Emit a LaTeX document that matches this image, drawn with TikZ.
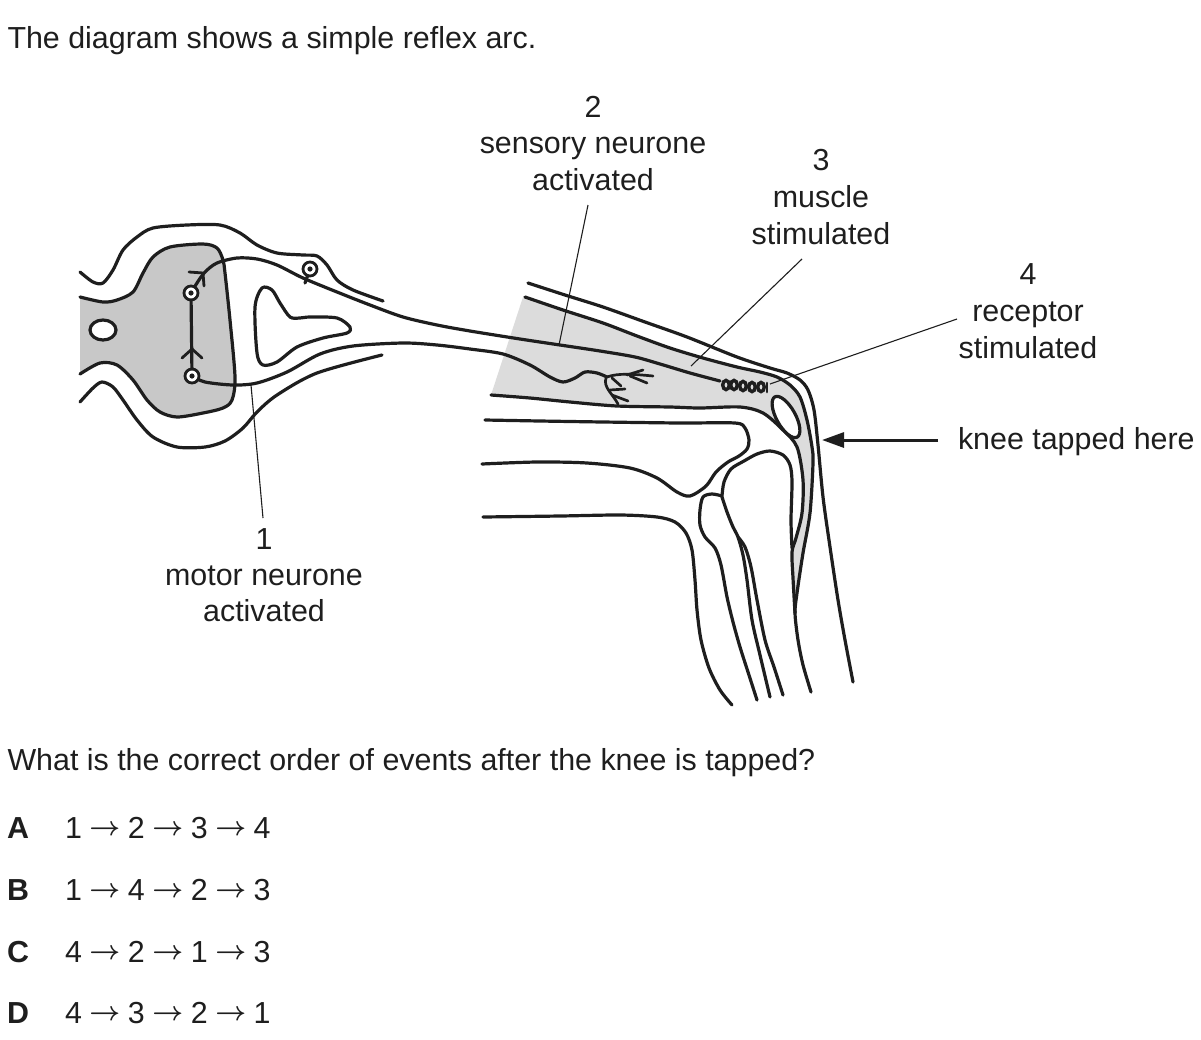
\documentclass[tikz,border=0pt]{standalone}
\usepackage{fontspec}
\setmainfont{Liberation Sans}
\usetikzlibrary{arrows.meta}
\definecolor{ink}{HTML}{1E1E1E}
\definecolor{cordgray}{HTML}{C8C8C8}
\definecolor{musclegray}{HTML}{DCDCDC}
\newcommand\rarr{\makebox[46pt]{\fontsize{24.88}{26}\selectfont\boldmath\raisebox{2.5pt}{\scalebox{1.08}{$\rightarrow$}}}}
\begin{document}
\begin{tikzpicture}[x=1pt,y=-1pt,
  every node/.style={inner sep=0pt, outer sep=0pt, font=\fontsize{30.4}{36}\selectfont, text=ink},
  thickline/.style={draw=ink, line width=3.2pt, line cap=round, line join=round},
  thinner/.style={draw=ink, line width=2.7pt, line cap=round, line join=round},
  leader/.style={draw=ink, line width=1.1pt},
  cell/.style={circle, draw=ink, fill=white, line width=2.8pt, minimum size=14pt},
  coilring/.style={draw=ink, line width=3.4pt},
]
\useasboundingbox (0,0) rectangle (1201,1039);

% ---------- texts ----------
\node[anchor=base west] (title) at (7.5,48) {The diagram shows a simple reflex arc.};
\node[anchor=base] (n2) at (593,117) {2};
\node[anchor=base] (s2a) at (593,153) {sensory neurone};
\node[anchor=base] (s2b) at (593,190) {activated};
\node[anchor=base] (n3) at (821,170) {3};
\node[anchor=base] (s3a) at (821,207) {muscle};
\node[anchor=base] (s3b) at (821,244) {stimulated};
\node[anchor=base] (n4) at (1028,284) {4};
\node[anchor=base] (s4a) at (1028,321) {receptor};
\node[anchor=base] (s4b) at (1028,358) {stimulated};
\node[anchor=base west] (knee) at (958,449) {knee tapped here};
\node[anchor=base] (n1) at (264,549) {1};
\node[anchor=base] (s1a) at (264,585) {motor neurone};
\node[anchor=base] (s1b) at (264,621) {activated};
\node[anchor=base west] (q) at (7.5,770) {What is the correct order of events after the knee is tapped?};
\node[anchor=base west] (oA) at (7,838) {\bfseries A};
\node[anchor=base west] (oAt) at (65,838) {1\rarr 2\rarr 3\rarr 4};
\node[anchor=base west] (oB) at (7,900) {\bfseries B};
\node[anchor=base west] (oBt) at (65,900) {1\rarr 4\rarr 2\rarr 3};
\node[anchor=base west] (oC) at (7,962) {\bfseries C};
\node[anchor=base west] (oCt) at (65,962) {4\rarr 2\rarr 1\rarr 3};
\node[anchor=base west] (oD) at (7,1023) {\bfseries D};
\node[anchor=base west] (oDt) at (65,1023) {4\rarr 3\rarr 2\rarr 1};

% ---------- spinal cord ----------
\path[fill=cordgray, thickline] plot[smooth] coordinates {(80,297) (103,302) (117,300) (133,292) (143,273) (153,257) (170,247) (203,244) (217,248) (223,260) (225,273) (230,320) (235,377) (232,400) (223,408) (203,413) (177,417) (160,412) (147,400) (133,380) (117,365) (100,363) (80,374)};
\draw[thickline, fill=white] (103,330) ellipse [x radius=13, y radius=10];
\draw[thickline] plot[smooth] coordinates {(80,272) (93,282) (103,283) (113,270) (123,250) (137,237) (153,228) (187,225) (220,225) (240,233) (257,245) (277,253) (303,255) (317,256) (327,265) (337,280) (353,290) (383,301)};
\draw[thickline] plot[smooth] coordinates {(80,402) (93,388) (102,382) (113,387) (123,400) (137,420) (153,437) (177,447) (205,447) (225,441) (243,428) (257,412) (277,395) (317,373) (382,355)};
\draw[thickline] plot[smooth cycle] coordinates {(262,288) (255,307) (257,353) (263,365) (277,362) (297,347) (323,338) (347,333) (350,327) (337,318) (310,317) (300,318) (290,317) (280,303) (272,290)};

% ---------- muscle (light grey) ----------
\fill[musclegray] (523,297) -- plot[smooth] coordinates {(491,395) (530,398) (570,402) (617,406) (670,407) (700,408) (740,407) (763,413) (783,430) (797,447) (803,480) (802,513) (796,538) (792,552) (793,578) (795,613)}
  -- plot[smooth] coordinates {(797,593) (803,553) (810,513) (813,463) (812,447) (807,420) (800,397) (790,385) (777,377) (760,372) (737,367) (703,358) (670,348) (637,336) (603,323) (563,310) (525,297)} -- cycle;
\draw[thickline] plot[smooth] coordinates {(491,395) (530,398) (570,402) (617,406) (670,407) (700,408) (740,407) (763,413) (783,430) (797,447) (803,480) (802,513) (796,538) (792,552) (793,578) (795,613)};
\draw[thickline] plot[smooth] coordinates {(525,297) (563,310) (603,323) (637,336) (670,348) (703,358) (737,367) (760,372) (777,377) (790,385) (800,397) (807,420) (812,447) (813,463) (810,513) (803,553) (797,593) (795,613) (798,640) (803,665) (811,692)};
\draw[thickline] plot[smooth] coordinates {(528,283) (565,295) (603,307) (645,322) (687,337) (737,357) (770,368) (787,373) (800,380) (808,390) (814,410) (818,445) (823,497) (830,547) (838,600) (845,640) (853,682)};
\draw[thickline, fill=white, rotate around={-61:(786,417)}] (786,417) ellipse [x radius=23, y radius=9.5];

% ---------- bones ----------
\draw[thickline] plot[smooth] coordinates {(485,420) (540,421) (603,422) (680,423) (735,423) (745,428) (749,440) (747,449) (739,456) (728,462) (716,472) (706,486) (690,496) (677,492) (657,478) (630,468) (587,463) (537,462) (482,464)};
\draw[thickline] plot[smooth] coordinates {(483,517) (560,516) (620,515) (657,517) (675,522) (686,533) (692,550) (695,580) (697,610) (701,640) (709,668) (720,690) (732,705)};
\draw[thickline] plot[smooth] coordinates {(722,496) (712,494) (703,497) (700,510) (700,525) (705,537) (715,548) (721,565) (727,597) (733,622) (740,647) (748,672) (757,700)};
\draw[thickline] plot[smooth] coordinates {(722,496) (724,482) (731,469) (744,461) (757,454) (770,451) (783,455) (790,465) (792,482) (791,520) (792,548)};
\draw[thickline] plot[smooth] coordinates {(722,497) (727,512) (733,527) (738,537) (743,555) (747,580) (752,620) (760,655) (770,697)};
\draw[thickline] plot[smooth] coordinates {(738,537) (745,547) (751,567) (757,600) (765,640) (774,667) (783,695)};

% ---------- neurones ----------
\draw[thickline] plot[smooth] coordinates {(191,293) (197,283) (205,272) (217,263) (237,258) (257,259) (277,265) (303,278) (337,292) (370,305) (403,317) (437,325) (470,331) (520,339) (560,345) (600,351) (635,357) (660,364) (690,373) (720,381)};
\draw[thickline] plot[smooth] coordinates {(192,376) (205,382) (233,385) (257,383) (287,372) (320,354) (353,346) (403,343) (437,345) (470,349) (503,354) (530,365) (550,377) (563,382) (575,378) (585,372) (597,373) (607,377)};
% motor end plate branches
\draw[thinner] (607,377) .. controls (618,373) and (632,374) .. (653,376);
\draw[thinner] (627,375) -- (643,370);
\draw[thinner] (630,376) -- (647,383);
\draw[thinner] (612,378) -- (621,386);
\draw[thinner] (606,378) .. controls (603,387) and (612,393) .. (618,404);
\draw[thinner] (610,390) -- (625,389);
\draw[thinner] (612,395) -- (628,401);
% receptor coils
\foreach \cx/\cy in {726/385, 734/385, 743/386, 752/387, 761/387}
  \draw[coilring] (\cx,\cy) ellipse [x radius=3.3, y radius=4.6];
\draw[thinner] (767,383) -- (767,392);

% cells
\node[cell] (relay) at (191,293) {};
\node[cell] (motor) at (192,376) {};
\node[cell] (gang) at (310,269) {};
\coordinate (gstalk) at (305,283);
\draw[thickline] (gang) -- (gstalk);
\draw[thickline] (motor) -- (relay);
\foreach \c in {relay, motor, gang} \fill[ink] (\c.center) circle (2.6);
\draw[thickline, line width=2.8pt] (189,272) -- (203,273) -- (204,286);
\draw[thickline, line width=2.8pt] (182,358) -- (192,349) -- (202,358);

% ---------- leaders ----------
\coordinate (l1s) at (263,518); \coordinate (l1e) at (251,385);
\coordinate (l2s) at (588,205); \coordinate (l2e) at (559,345);
\coordinate (l3s) at (802,259); \coordinate (l3e) at (691,366);
\coordinate (l4s) at (957,319); \coordinate (l4e) at (770,384);
\draw[leader] (l1s) -- (l1e);
\draw[leader] (l2s) -- (l2e);
\draw[leader] (l3s) -- (l3e);
\draw[leader] (l4s) -- (l4e);

\coordinate (kA) at (938,440); \coordinate (kB) at (822,440);
\draw[draw=ink, line width=3pt, -{Triangle[length=22pt,width=15pt]}] (kA) -- (kB);
\end{tikzpicture}
\end{document}
